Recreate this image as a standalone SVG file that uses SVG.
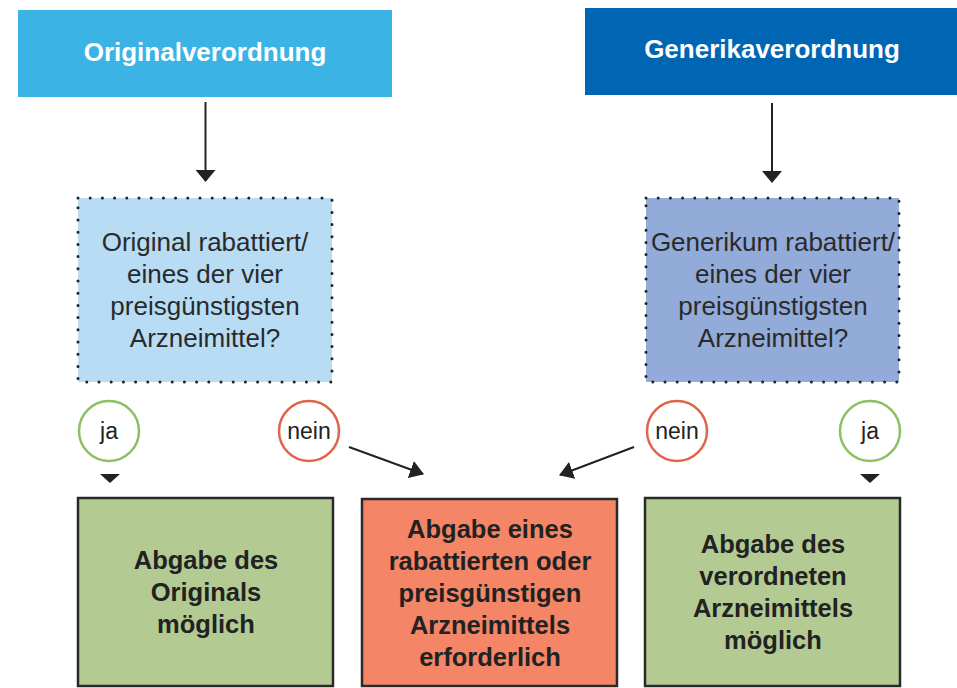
<svg xmlns="http://www.w3.org/2000/svg" width="957" height="688" viewBox="0 0 957 688">
<defs>
<style>
.hdr{font-family:"Liberation Sans",Arial,sans-serif;font-weight:bold;font-size:26px;fill:#fff;text-anchor:middle}
.q{font-family:"Liberation Sans",Arial,sans-serif;font-size:26px;fill:#2a2a2a;text-anchor:middle}
.res{font-family:"Liberation Sans",Arial,sans-serif;font-weight:bold;font-size:25.5px;fill:#222;text-anchor:middle}
.lbl{font-family:"Liberation Sans",Arial,sans-serif;font-size:23px;fill:#222;text-anchor:middle}
.dot{stroke:#222;stroke-width:3;stroke-linecap:round;stroke-dasharray:0 12.2}
.box{stroke:#2a2a2a;stroke-width:2.5}
.ln{stroke:#222;stroke-width:2;fill:none}
</style>
<marker id="ah2" viewBox="0 0 12 20" refX="11" refY="10" markerWidth="12" markerHeight="20" markerUnits="userSpaceOnUse" orient="auto">
<path d="M0,0 L12,10 L0,20 z" fill="#222"/>
</marker>
<marker id="ah3" viewBox="0 0 14 18" refX="13" refY="9" markerWidth="14" markerHeight="18" markerUnits="userSpaceOnUse" orient="auto">
<path d="M0,0 L14,9 L0,18 z" fill="#222"/>
</marker>
</defs>

<g id="hdr-original">
<rect x="18" y="10" width="374" height="87" fill="#3bb4e5"/>
<text class="hdr" x="205" y="61">Originalverordnung</text>
</g>
<g id="hdr-generika">
<rect x="585" y="8" width="372" height="87" fill="#0066b3"/>
<text class="hdr" x="772" y="58">Generikaverordnung</text>
</g>

<g id="q-original">
<rect x="78" y="198" width="254" height="184" fill="#b7dcf3"/>
<rect x="78" y="198" width="254" height="184" fill="none" class="dot"/>
<text class="q" x="205" y="251">Original rabattiert/</text>
<text class="q" x="205" y="283">eines der vier</text>
<text class="q" x="205" y="315">preisgünstigsten</text>
<text class="q" x="205" y="347">Arzneimittel?</text>
</g>
<g id="q-generika">
<rect x="646" y="198" width="253" height="184" fill="#93abd8"/>
<rect x="646" y="198" width="253" height="184" fill="none" class="dot"/>
<text class="q" x="773" y="251">Generikum rabattiert/</text>
<text class="q" x="773" y="283">eines der vier</text>
<text class="q" x="773" y="315">preisgünstigsten</text>
<text class="q" x="773" y="347">Arzneimittel?</text>
</g>

<g id="ja-left">
<circle cx="109" cy="431" r="30" fill="#fff" stroke="#8cc063" stroke-width="2.5"/>
<text class="lbl" x="109" y="439">ja</text>
</g>
<g id="nein-left">
<circle cx="309" cy="431" r="30" fill="#fff" stroke="#e06548" stroke-width="2.5"/>
<text class="lbl" x="309" y="439">nein</text>
</g>
<g id="nein-right">
<circle cx="677" cy="431" r="30" fill="#fff" stroke="#e06548" stroke-width="2.5"/>
<text class="lbl" x="677" y="439">nein</text>
</g>
<g id="ja-right">
<circle cx="870" cy="431" r="30" fill="#fff" stroke="#8cc063" stroke-width="2.5"/>
<text class="lbl" x="870" y="439">ja</text>
</g>

<g id="res-original">
<rect x="78" y="498" width="255" height="188" fill="#b3cb93" class="box"/>
<text class="res" x="206" y="569">Abgabe des</text>
<text class="res" x="206" y="601">Originals</text>
<text class="res" x="206" y="633">möglich</text>
</g>
<g id="res-pflicht">
<rect x="362" y="499" width="255" height="187" fill="#f48566" class="box"/>
<text class="res" x="490" y="538">Abgabe eines</text>
<text class="res" x="490" y="570">rabattierten oder</text>
<text class="res" x="490" y="602">preisgünstigen</text>
<text class="res" x="490" y="634">Arzneimittels</text>
<text class="res" x="490" y="666">erforderlich</text>
</g>
<g id="res-generika">
<rect x="645" y="498" width="255" height="188" fill="#b3cb93" class="box"/>
<text class="res" x="773" y="553">Abgabe des</text>
<text class="res" x="773" y="585">verordneten</text>
<text class="res" x="773" y="617">Arzneimittels</text>
<text class="res" x="773" y="649">möglich</text>
</g>

<g id="connectors">
<line class="ln" x1="205.5" y1="102" x2="205.5" y2="181" marker-end="url(#ah2)"/>
<line class="ln" x1="772" y1="103" x2="772" y2="182" marker-end="url(#ah2)"/>
<path d="M100,474 L120,474 L110,483 z" fill="#222"/>
<path d="M860,474 L880,474 L870,483 z" fill="#222"/>
<line class="ln" x1="349" y1="447" x2="423" y2="474" marker-end="url(#ah3)"/>
<line class="ln" x1="634" y1="447" x2="560" y2="475" marker-end="url(#ah3)"/>
</g>
</svg>
